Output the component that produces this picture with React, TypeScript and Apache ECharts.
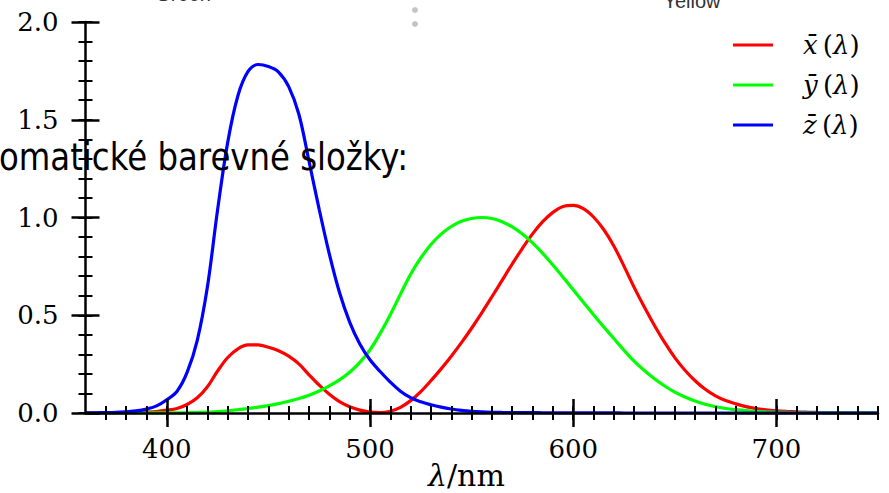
import { useEffect, useRef } from 'react';
import * as echarts from 'echarts';

// CIE 1931 2° colour-matching functions, sampled every 5 nm
const WAVELENGTH = [
  360, 365, 370, 375, 380, 385, 390, 395, 400, 405, 410, 415, 420, 425, 430, 435, 440, 445, 450, 455,
  460, 465, 470, 475, 480, 485, 490, 495, 500, 505, 510, 515, 520, 525, 530, 535, 540, 545, 550, 555,
  560, 565, 570, 575, 580, 585, 590, 595, 600, 605, 610, 615, 620, 625, 630, 635, 640, 645, 650, 655,
  660, 665, 670, 675, 680, 685, 690, 695, 700, 705, 710, 715, 720, 725, 730, 735, 740, 745, 750,
];

const X_BAR = [
  0.00013, 0.000232, 0.000415, 0.000742, 0.001368, 0.002236, 0.004243, 0.00765, 0.01431, 0.02319,
  0.04351, 0.07763, 0.13438, 0.21477, 0.2839, 0.3285, 0.34828, 0.34806, 0.3362, 0.3187,
  0.2908, 0.2511, 0.19536, 0.1421, 0.09564, 0.05795, 0.03201, 0.0147, 0.0049, 0.0024,
  0.0093, 0.0291, 0.06327, 0.1096, 0.1655, 0.22575, 0.2904, 0.3597, 0.43345, 0.51205,
  0.5945, 0.6784, 0.7621, 0.8425, 0.9163, 0.9786, 1.0263, 1.0567, 1.0622, 1.0456,
  1.0026, 0.9384, 0.85445, 0.7514, 0.6424, 0.5419, 0.4479, 0.3608, 0.2835, 0.2187,
  0.1649, 0.1212, 0.0874, 0.0636, 0.04677, 0.0329, 0.0227, 0.01584, 0.011359, 0.008111,
  0.00579, 0.004109, 0.002899, 0.002049, 0.00144, 0.001, 0.00069, 0.000476, 0.000332,
];

const Y_BAR = [
  0.000004, 0.000007, 0.000012, 0.000022, 0.000039, 0.000064, 0.00012, 0.000217, 0.000396, 0.00064,
  0.00121, 0.00218, 0.004, 0.0073, 0.0116, 0.01684, 0.023, 0.0298, 0.038, 0.048,
  0.06, 0.0739, 0.09098, 0.1126, 0.13902, 0.1693, 0.20802, 0.2586, 0.323, 0.4073,
  0.503, 0.6082, 0.71, 0.7932, 0.862, 0.91485, 0.954, 0.9803, 0.99495, 1.0,
  0.995, 0.9786, 0.952, 0.9154, 0.87, 0.8163, 0.757, 0.6949, 0.631, 0.5668,
  0.503, 0.4412, 0.381, 0.321, 0.265, 0.217, 0.175, 0.1382, 0.107, 0.0816,
  0.061, 0.04458, 0.032, 0.0232, 0.017, 0.01192, 0.00821, 0.005723, 0.004102, 0.002929,
  0.002091, 0.001484, 0.001047, 0.00074, 0.00052, 0.000361, 0.000249, 0.000172, 0.00012,
];

const Z_BAR = [
  0.000606, 0.001086, 0.001946, 0.003486, 0.00645, 0.01055, 0.02005, 0.03621, 0.06785, 0.1102,
  0.2074, 0.3713, 0.6456, 1.03905, 1.3856, 1.62296, 1.74706, 1.7826, 1.77211, 1.7441,
  1.6692, 1.5281, 1.28764, 1.0419, 0.81295, 0.6162, 0.46518, 0.3533, 0.272, 0.2123,
  0.1582, 0.1117, 0.07825, 0.05725, 0.04216, 0.02984, 0.0203, 0.0134, 0.00875, 0.00575,
  0.0039, 0.00275, 0.0021, 0.0018, 0.00165, 0.0014, 0.0011, 0.001, 0.0008, 0.0006,
  0.00034, 0.00024, 0.00019, 0.0001, 0.00005, 0.00003, 0.00002, 0.00001, 0, 0,
  0, 0, 0, 0, 0, 0, 0, 0, 0, 0,
  0, 0, 0, 0, 0, 0, 0, 0, 0,
];

const SERIES_LETTERS = ['x', 'y', 'z'];
const SERIES_COLORS = ['#ff0000', '#00ff00', '#0000ff'];
const SERIES_VALUES = [X_BAR, Y_BAR, Z_BAR];

const X_MIN = 360;
const X_MAX = 750;
const X_MAJOR_TICKS = [400, 500, 600, 700];
const X_MINOR_TICKS = Array.from({ length: 39 }, (_, i) => 370 + i * 10);
const Y_MIN = 0;
const Y_MAX = 2;

const SERIF = '"DejaVu Serif", serif';

export default function App() {
  const ref = useRef<HTMLDivElement>(null);

  useEffect(() => {
    document.body.style.margin = '0';
    const chart = echarts.init(ref.current!, null, { renderer: 'svg' });

    const names = SERIES_LETTERS.map((l) => `${l}\u0304(λ)`);

    const baseX = {
      type: 'value' as const,
      position: 'bottom' as const,
      min: X_MIN,
      max: X_MAX,
      splitLine: { show: false },
      z: 5,
    };
    const baseY = {
      type: 'value' as const,
      position: 'left' as const,
      min: Y_MIN,
      max: Y_MAX,
      splitLine: { show: false },
      z: 5,
    };

    chart.setOption({
      animation: false,
      backgroundColor: '#ffffff',
      grid: { left: 85.5, right: 11, top: 22, bottom: 80, containLabel: false },
      xAxis: [
        {
          ...baseX,
          interval: 10,
          axisLine: { show: true, onZero: false, lineStyle: { color: '#000', width: 2.5 } },
          axisTick: { show: false },
          axisLabel: {
            show: true,
            margin: 23,
            color: '#000',
            fontFamily: SERIF,
            fontSize: 26,
            formatter: (v: number) => (X_MAJOR_TICKS.includes(v) ? String(v) : ''),
          },
        },
        {
          ...baseX,
          offset: -14,
          axisLine: { show: false, onZero: false },
          axisTick: { show: true, length: 28, customValues: X_MAJOR_TICKS, lineStyle: { color: '#000', width: 2.5 } },
          axisLabel: { show: false },
        },
        {
          ...baseX,
          offset: -7,
          axisLine: { show: false, onZero: false },
          axisTick: { show: true, length: 14, customValues: X_MINOR_TICKS, lineStyle: { color: '#000', width: 2 } },
          axisLabel: { show: false },
        },
      ],
      yAxis: [
        {
          ...baseY,
          interval: 0.5,
          axisLine: { show: true, onZero: false, lineStyle: { color: '#000', width: 2.5 } },
          axisTick: { show: false },
          axisLabel: {
            show: true,
            margin: 27,
            color: '#000',
            fontFamily: SERIF,
            fontSize: 26,
            formatter: (v: number) => v.toFixed(1),
          },
        },
        {
          ...baseY,
          interval: 0.5,
          offset: -14,
          axisLine: { show: false, onZero: false },
          axisTick: { show: true, length: 28, lineStyle: { color: '#000', width: 2.5 } },
          axisLabel: { show: false },
        },
        {
          ...baseY,
          interval: 0.1,
          offset: -7,
          axisLine: { show: false, onZero: false },
          axisTick: { show: true, length: 14, lineStyle: { color: '#000', width: 2 } },
          axisLabel: { show: false },
        },
      ],
      legend: {
        orient: 'vertical',
        left: 728,
        top: 27,
        icon: 'rect',
        itemWidth: 40,
        itemHeight: 3,
        itemGap: 14,
        data: names,
        formatter: (name: string) => {
          const letter = name.charAt(0);
          return `{sp|}{it|${letter}\u0304}{rm|\u2009(}{it|λ}{rm|)}`;
        },
        textStyle: {
          rich: {
            sp: { width: 25, lineHeight: 28 },
            it: { fontFamily: SERIF, fontStyle: 'italic', fontSize: 26, color: '#000', lineHeight: 28 },
            rm: { fontFamily: SERIF, fontSize: 26, color: '#000', lineHeight: 28 },
          },
        },
      },
      series: SERIES_VALUES.map((vals, i) => ({
        name: names[i],
        type: 'line',
        xAxisIndex: 0,
        yAxisIndex: 0,
        smooth: 0.35,
        showSymbol: false,
        clip: true,
        z: 1,
        lineStyle: { color: SERIES_COLORS[i], width: 3.2 },
        itemStyle: { color: SERIES_COLORS[i] },
        data: WAVELENGTH.map((w, j) => [w, vals[j]]),
      })),
      graphic: [
        {
          type: 'text',
          x: 428,
          y: 475,
          z: 10,
          style: {
            text: '{it|λ}{rm|/nm}',
            verticalAlign: 'middle',
            rich: {
              it: { fontFamily: SERIF, fontStyle: 'italic', fontSize: 30, fill: '#000' },
              rm: { fontFamily: SERIF, fontSize: 30, fill: '#000' },
            },
          },
        },
        {
          type: 'text',
          x: -1,
          y: 157,
          z: 20,
          scaleX: 0.875,
          style: {
            text: 'omatické barevné složky:',
            font: '37px "DejaVu Sans", sans-serif',
            fill: '#000',
            verticalAlign: 'middle',
          },
        },
        {
          type: 'text',
          x: 183,
          y: -6,
          z: 20,
          style: {
            text: 'Green',
            font: '20px "Liberation Sans", Arial, sans-serif',
            fill: '#333',
            align: 'center',
            verticalAlign: 'middle',
          },
        },
        {
          type: 'text',
          x: 692,
          y: 1,
          z: 20,
          style: {
            text: 'Yellow',
            font: '20px "Liberation Sans", Arial, sans-serif',
            fill: '#333',
            align: 'center',
            verticalAlign: 'middle',
          },
        },
        { type: 'circle', z: 20, shape: { cx: 415, cy: -4, r: 3 }, style: { fill: '#c4c4c4' } },
        { type: 'circle', z: 20, shape: { cx: 415, cy: 10, r: 3 }, style: { fill: '#c4c4c4' } },
        { type: 'circle', z: 20, shape: { cx: 415, cy: 24, r: 3 }, style: { fill: '#c4c4c4' } },
      ],
    });

    return () => chart.dispose();
  }, []);

  return <div ref={ref} style={{ width: 889, height: 493 }} />;
}
